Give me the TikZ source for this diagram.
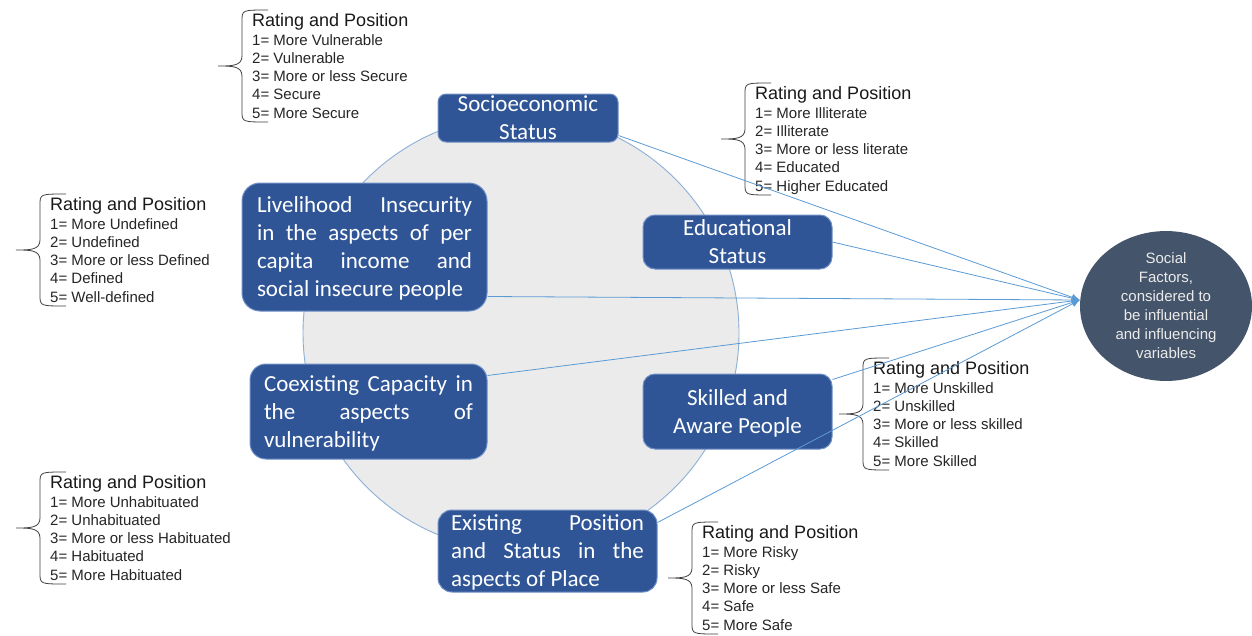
\documentclass[tikz,border=0pt]{standalone}
\usepackage{fontspec}
\setmainfont{Liberation Sans}
\newfontfamily\boxfont{Carlito}
\usetikzlibrary{shapes.geometric,arrows.meta}
\definecolor{boxblue}{HTML}{2F5597}
\definecolor{boxedge}{HTML}{6F8FC6}
\definecolor{sfgray}{HTML}{44546A}
\definecolor{circfill}{HTML}{EBEBEB}
\definecolor{circedge}{HTML}{8DAFD6}
\definecolor{linkblue}{HTML}{5B9BD5}
\newcommand\ratingblock[8]{%
  \node[ratetitle] (#1-t) at (#2,#3) {Rating and Position};
  \node[rateitem] (#1-1) at (#2,#3+19) {#4};
  \node[rateitem] (#1-2) at (#2,#3+37.3) {#5};
  \node[rateitem] (#1-3) at (#2,#3+55.6) {#6};
  \node[rateitem] (#1-4) at (#2,#3+73.9) {#7};
  \node[rateitem] (#1-5) at (#2,#3+92.2) {#8};
  \draw[bracestyle] (#2+16,#3-16) .. controls (#2-10,#3-16) .. (#2-10,#3-5)
    -- (#2-10,#3+30) .. controls (#2-10,#3+40) and (#2-20,#3+40) .. (#2-34,#3+40)
    .. controls (#2-20,#3+40) and (#2-10,#3+40) .. (#2-10,#3+50)
    -- (#2-10,#3+85) .. controls (#2-10,#3+96) .. (#2+16,#3+96);
}
\begin{document}
\begin{tikzpicture}[x=1pt,y=-1pt,
  ratetitle/.style={anchor=base west,inner sep=0pt,text=black!90,font=\fontsize{18}{20}\selectfont},
  rateitem/.style={anchor=base west,inner sep=0pt,text=black!85,font=\fontsize{15}{17}\selectfont},
  bracestyle/.style={draw=black!75,line width=0.8pt},
  bluebox/.style={draw=boxedge,line width=1pt,fill=boxblue,rounded corners=12pt,text=white,
    inner sep=0pt,align=center,text depth=0pt,font=\boxfont\fontsize{23}{28}\selectfont},
  conn/.style={draw=linkblue,line width=0.8pt,-{Latex[length=8pt,width=7pt]}}
]
\useasboundingbox (0,0) rectangle (1252,635);
\fill[white] (0,0) rectangle (1252,635);

% background circle
\node[circle,draw=circedge,line width=0.9pt,fill=circfill,minimum size=436pt,inner sep=0pt] (bg) at (521,333) {};

% boxes
\node[bluebox,minimum width=180pt,minimum height=48pt,rounded corners=8pt] (socio) at (528,118)
  {Socioeconomic\\Status};
\node[bluebox,minimum width=245pt,minimum height=128pt,rounded corners=18pt,align=left] (liv) at (364.5,247)
  {\makebox[215pt][s]{Livelihood Insecurity}\\\makebox[215pt][s]{in the aspects of per}\\
   \makebox[215pt][s]{capita income and}\\social insecure people};
\node[bluebox,minimum width=189pt,minimum height=54pt] (edu) at (737.5,242)
  {Educational\\Status};
\node[bluebox,minimum width=237pt,minimum height=95pt,rounded corners=16pt,align=left] (coex) at (368.5,411.5)
  {\makebox[209pt][s]{Coexisting Capacity in}\\\makebox[209pt][s]{the aspects of}\\
   \makebox[209pt][l]{vulnerability}};
\node[bluebox,minimum width=189pt,minimum height=75pt] (skill) at (737.5,411.5)
  {Skilled and\\Aware People};
\node[bluebox,minimum width=219pt,minimum height=82pt,rounded corners=14pt,align=left] (exist) at (547.5,551)
  {\makebox[193pt][s]{Existing Position}\\\makebox[193pt][s]{and Status in the}\\
   \makebox[193pt][l]{aspects of Place}};

% social factors ellipse
\node[ellipse,fill=sfgray,minimum width=172pt,minimum height=148pt,inner sep=0pt,
  text=white!92!black,align=center,font=\fontsize{15}{19}\selectfont] (sf) at (1166,306)
  {Social\\Factors,\\considered to\\be influential\\and influencing\\variables};

% rating blocks
\ratingblock{r1}{252}{26}{1= More Vulnerable}{2= Vulnerable}{3= More or less Secure}{4= Secure}{5= More Secure}
\ratingblock{r2}{755}{99}{1= More Illiterate}{2= Illiterate}{3= More or less literate}{4= Educated}{5= Higher Educated}
\ratingblock{r3}{50}{210}{1= More Undefined}{2= Undefined}{3= More or less Defined}{4= Defined}{5= Well-defined}
\ratingblock{r4}{873}{374}{1= More Unskilled}{2= Unskilled}{3= More or less skilled}{4= Skilled}{5= More Skilled}
\ratingblock{r5}{50}{488}{1= More Unhabituated}{2= Unhabituated}{3= More or less Habituated}{4= Habituated}{5= More Habituated}
\ratingblock{r6}{702}{538}{1= More Risky}{2= Risky}{3= More or less Safe}{4= Safe}{5= More Safe}

% connectors
\draw[conn] ([yshift=7pt]socio.south east) -- ([yshift=6pt]sf.west);
\draw[conn] (edu.east) -- ([yshift=6pt]sf.west);
\draw[conn] ([yshift=15pt]liv.south east) -- ([yshift=6pt]sf.west);
\draw[conn] ([yshift=-12pt]coex.north east) -- ([yshift=6pt]sf.west);
\draw[conn] ([yshift=-6pt]skill.north east) -- ([yshift=6pt]sf.west);
\draw[conn] ([yshift=-13pt]exist.north east) -- ([yshift=6pt]sf.west);
\end{tikzpicture}
\end{document}
